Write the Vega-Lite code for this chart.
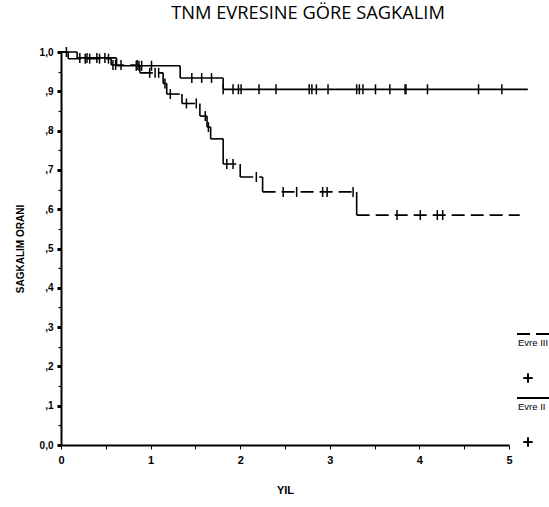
{
  "$schema": "https://vega.github.io/schema/vega-lite/v6.json",
  "width": 448,
  "height": 393,
  "autosize": {"type": "none"},
  "padding": {"left": 61, "top": 52, "right": 40, "bottom": 62},
  "background": "white",
  "config": {"view": {"stroke": null}, "font": "Liberation Sans"},
  "title": {"text": "TNM EVRESINE GÖRE SAGKALIM", "font": "Open Sans", "fontSize": 18.3, "fontWeight": "normal", "dx": 23, "offset": 21, "color": "black"},
  "datasets": {
    "adim": [
      {"evre": "Evre II", "bas": 0, "son": 0.18, "sagkalim": 1.0, "sonraki": 0.985},
      {"evre": "Evre II", "bas": 0.18, "son": 0.62, "sagkalim": 0.985, "sonraki": 0.965},
      {"evre": "Evre II", "bas": 0.62, "son": 1.33, "sagkalim": 0.965, "sonraki": 0.934},
      {"evre": "Evre II", "bas": 1.33, "son": 1.81, "sagkalim": 0.934, "sonraki": 0.905},
      {"evre": "Evre II", "bas": 1.81, "son": 5.21, "sagkalim": 0.905, "sonraki": 0.905},
      {"evre": "Evre III", "bas": 0, "son": 0.08, "sagkalim": 1.0, "sonraki": 0.983},
      {"evre": "Evre III", "bas": 0.08, "son": 0.56, "sagkalim": 0.983, "sonraki": 0.967},
      {"evre": "Evre III", "bas": 0.56, "son": 0.88, "sagkalim": 0.967, "sonraki": 0.947},
      {"evre": "Evre III", "bas": 0.88, "son": 1.14, "sagkalim": 0.947, "sonraki": 0.92},
      {"evre": "Evre III", "bas": 1.14, "son": 1.18, "sagkalim": 0.92, "sonraki": 0.893},
      {"evre": "Evre III", "bas": 1.18, "son": 1.35, "sagkalim": 0.893, "sonraki": 0.869},
      {"evre": "Evre III", "bas": 1.35, "son": 1.55, "sagkalim": 0.869, "sonraki": 0.837},
      {"evre": "Evre III", "bas": 1.55, "son": 1.63, "sagkalim": 0.837, "sonraki": 0.809},
      {"evre": "Evre III", "bas": 1.63, "son": 1.67, "sagkalim": 0.809, "sonraki": 0.779},
      {"evre": "Evre III", "bas": 1.67, "son": 1.81, "sagkalim": 0.779, "sonraki": 0.715},
      {"evre": "Evre III", "bas": 1.81, "son": 2.0, "sagkalim": 0.715, "sonraki": 0.682},
      {"evre": "Evre III", "bas": 2.0, "son": 2.25, "sagkalim": 0.682, "sonraki": 0.644},
      {"evre": "Evre III", "bas": 2.25, "son": 3.3, "sagkalim": 0.644, "sonraki": 0.585},
      {"evre": "Evre III", "bas": 3.3, "son": 5.12, "sagkalim": 0.585, "sonraki": 0.585}
    ],
    "cens": [
      {"evre": "Evre III", "yil": 0.06, "sagkalim": 1.0},
      {"evre": "Evre II", "yil": 0.21, "sagkalim": 0.985},
      {"evre": "Evre II", "yil": 0.29, "sagkalim": 0.985},
      {"evre": "Evre II", "yil": 0.40, "sagkalim": 0.985},
      {"evre": "Evre II", "yil": 0.49, "sagkalim": 0.985},
      {"evre": "Evre III", "yil": 0.27, "sagkalim": 0.983},
      {"evre": "Evre III", "yil": 0.32, "sagkalim": 0.983},
      {"evre": "Evre III", "yil": 0.43, "sagkalim": 0.983},
      {"evre": "Evre III", "yil": 0.53, "sagkalim": 0.983},
      {"evre": "Evre III", "yil": 0.58, "sagkalim": 0.967},
      {"evre": "Evre III", "yil": 0.61, "sagkalim": 0.967},
      {"evre": "Evre III", "yil": 0.67, "sagkalim": 0.967},
      {"evre": "Evre III", "yil": 0.85, "sagkalim": 0.967},
      {"evre": "Evre II", "yil": 0.84, "sagkalim": 0.965},
      {"evre": "Evre II", "yil": 0.87, "sagkalim": 0.965},
      {"evre": "Evre II", "yil": 0.90, "sagkalim": 0.965},
      {"evre": "Evre II", "yil": 1.01, "sagkalim": 0.965},
      {"evre": "Evre III", "yil": 0.99, "sagkalim": 0.947},
      {"evre": "Evre III", "yil": 1.05, "sagkalim": 0.947},
      {"evre": "Evre III", "yil": 1.09, "sagkalim": 0.947},
      {"evre": "Evre III", "yil": 1.16, "sagkalim": 0.92},
      {"evre": "Evre III", "yil": 1.22, "sagkalim": 0.893},
      {"evre": "Evre III", "yil": 1.40, "sagkalim": 0.869},
      {"evre": "Evre III", "yil": 1.51, "sagkalim": 0.869},
      {"evre": "Evre III", "yil": 1.61, "sagkalim": 0.837},
      {"evre": "Evre III", "yil": 1.645, "sagkalim": 0.809},
      {"evre": "Evre III", "yil": 1.85, "sagkalim": 0.715},
      {"evre": "Evre III", "yil": 1.92, "sagkalim": 0.715},
      {"evre": "Evre III", "yil": 2.18, "sagkalim": 0.682},
      {"evre": "Evre III", "yil": 2.48, "sagkalim": 0.644},
      {"evre": "Evre III", "yil": 2.63, "sagkalim": 0.644},
      {"evre": "Evre III", "yil": 2.92, "sagkalim": 0.644},
      {"evre": "Evre III", "yil": 2.97, "sagkalim": 0.644},
      {"evre": "Evre III", "yil": 3.26, "sagkalim": 0.644},
      {"evre": "Evre III", "yil": 3.75, "sagkalim": 0.585},
      {"evre": "Evre III", "yil": 4.01, "sagkalim": 0.585},
      {"evre": "Evre III", "yil": 4.20, "sagkalim": 0.585},
      {"evre": "Evre III", "yil": 4.26, "sagkalim": 0.585},
      {"evre": "Evre II", "yil": 1.46, "sagkalim": 0.934},
      {"evre": "Evre II", "yil": 1.57, "sagkalim": 0.934},
      {"evre": "Evre II", "yil": 1.68, "sagkalim": 0.934},
      {"evre": "Evre II", "yil": 1.81, "sagkalim": 0.905},
      {"evre": "Evre II", "yil": 1.92, "sagkalim": 0.905},
      {"evre": "Evre II", "yil": 1.98, "sagkalim": 0.905},
      {"evre": "Evre II", "yil": 2.01, "sagkalim": 0.905},
      {"evre": "Evre II", "yil": 2.21, "sagkalim": 0.905},
      {"evre": "Evre II", "yil": 2.40, "sagkalim": 0.905},
      {"evre": "Evre II", "yil": 2.77, "sagkalim": 0.905},
      {"evre": "Evre II", "yil": 2.80, "sagkalim": 0.905},
      {"evre": "Evre II", "yil": 2.85, "sagkalim": 0.905},
      {"evre": "Evre II", "yil": 2.98, "sagkalim": 0.905},
      {"evre": "Evre II", "yil": 3.30, "sagkalim": 0.905},
      {"evre": "Evre II", "yil": 3.33, "sagkalim": 0.905},
      {"evre": "Evre II", "yil": 3.37, "sagkalim": 0.905},
      {"evre": "Evre II", "yil": 3.51, "sagkalim": 0.905},
      {"evre": "Evre II", "yil": 3.67, "sagkalim": 0.905},
      {"evre": "Evre II", "yil": 3.84, "sagkalim": 0.905},
      {"evre": "Evre II", "yil": 3.85, "sagkalim": 0.905},
      {"evre": "Evre II", "yil": 4.09, "sagkalim": 0.905},
      {"evre": "Evre II", "yil": 4.66, "sagkalim": 0.905},
      {"evre": "Evre II", "yil": 4.92, "sagkalim": 0.905}
    ]
  },
  "resolve": {"axis": {"y": "independent"}},
  "layer": [
    {
      "data": {"name": "adim"},
      "mark": {"type": "rule", "color": "black", "strokeWidth": 1.6},
      "encoding": {
        "x": {
          "field": "bas", "type": "quantitative",
          "scale": {"domain": [0, 5], "nice": false, "zero": false},
          "axis": {
            "title": "YIL",
            "values": [0, 0.5, 1, 1.5, 2, 2.5, 3, 3.5, 4, 4.5, 5],
            "labelExpr": "datum.value % 1 == 0 ? format(datum.value, 'd') : ''",
            "labelOverlap": false, "labelFlush": false,
            "grid": false,
            "domainColor": "black", "domainWidth": 2,
            "tickColor": "black", "tickSize": 4,
            "labelPadding": 5, "labelFontSize": 11, "labelFontWeight": "bold", "labelColor": "black",
            "titleFontSize": 11, "titleFontWeight": "bold", "titleColor": "black", "titlePadding": 19,
            "encode": {"ticks": {"update": {"strokeWidth": {"signal": "datum.value % 1 == 0 ? 3 : 1.2"}}}}
          }
        },
        "x2": {"field": "son"},
        "y": {
          "field": "sagkalim", "type": "quantitative",
          "scale": {"domain": [0, 1], "nice": false, "zero": true},
          "axis": {
            "title": "SAGKALIM ORANI",
            "orient": "left",
            "values": [0, 0.1, 0.2, 0.3, 0.4, 0.5, 0.6, 0.7, 0.8, 0.9, 1],
            "labelExpr": "datum.value == 0 ? '0,0' : (datum.value == 1 ? '1,0' : ',' + round(datum.value*10))",
            "labelOverlap": false, "labelFlush": false,
            "grid": false,
            "domainColor": "black", "domainWidth": 2,
            "tickColor": "black", "tickSize": 4, "tickWidth": 3,
            "labelPadding": 4, "labelFontSize": 10, "labelFontWeight": "bold", "labelColor": "black",
            "titleFontSize": 10, "titleFontWeight": "bold", "titleColor": "black", "titlePadding": 14
          }
        },
        "strokeDash": {
          "field": "evre", "type": "nominal",
          "scale": {"domain": ["Evre III", "Evre II"], "range": [[13, 6], [1, 0]]},
          "legend": {
            "orient": "none", "legendX": 461, "legendY": 271,
            "title": null, "padding": 0,
            "symbolType": "M-1.6,0H1.6M-0.97,4.4H-0.03M-0.5,3.93V4.87",
            "symbolSize": 400, "symbolStrokeWidth": 2, "symbolStrokeColor": "black",
            "labelBaseline": "top", "labelOffset": -26, "labelFontSize": 9.5, "labelColor": "black",
            "rowPadding": -5,
            "encode": {"labels": {"update": {"dy": {"value": 4}}}}
          }
        }
      }
    },
    {
      "data": {"name": "adim"},
      "mark": {"type": "rule", "color": "black", "strokeWidth": 1.6},
      "encoding": {
        "x": {"field": "son", "type": "quantitative"},
        "y": {"field": "sagkalim", "type": "quantitative", "axis": null},
        "y2": {"field": "sonraki"}
      }
    },
    {
      "data": {"name": "cens"},
      "mark": {"type": "point", "shape": "M0,-1V1", "size": 100, "color": "black", "strokeWidth": 1.5, "filled": false, "opacity": 1},
      "encoding": {
        "x": {"field": "yil", "type": "quantitative"},
        "y": {
          "field": "sagkalim", "type": "quantitative",
          "axis": {
            "orient": "left", "title": null, "labels": false, "domain": false, "grid": false,
            "values": [0.05, 0.15, 0.25, 0.35, 0.45, 0.55, 0.65, 0.75, 0.85, 0.95],
            "tickColor": "black", "tickSize": 3, "tickWidth": 1.2
          }
        }
      }
    }
  ]
}
